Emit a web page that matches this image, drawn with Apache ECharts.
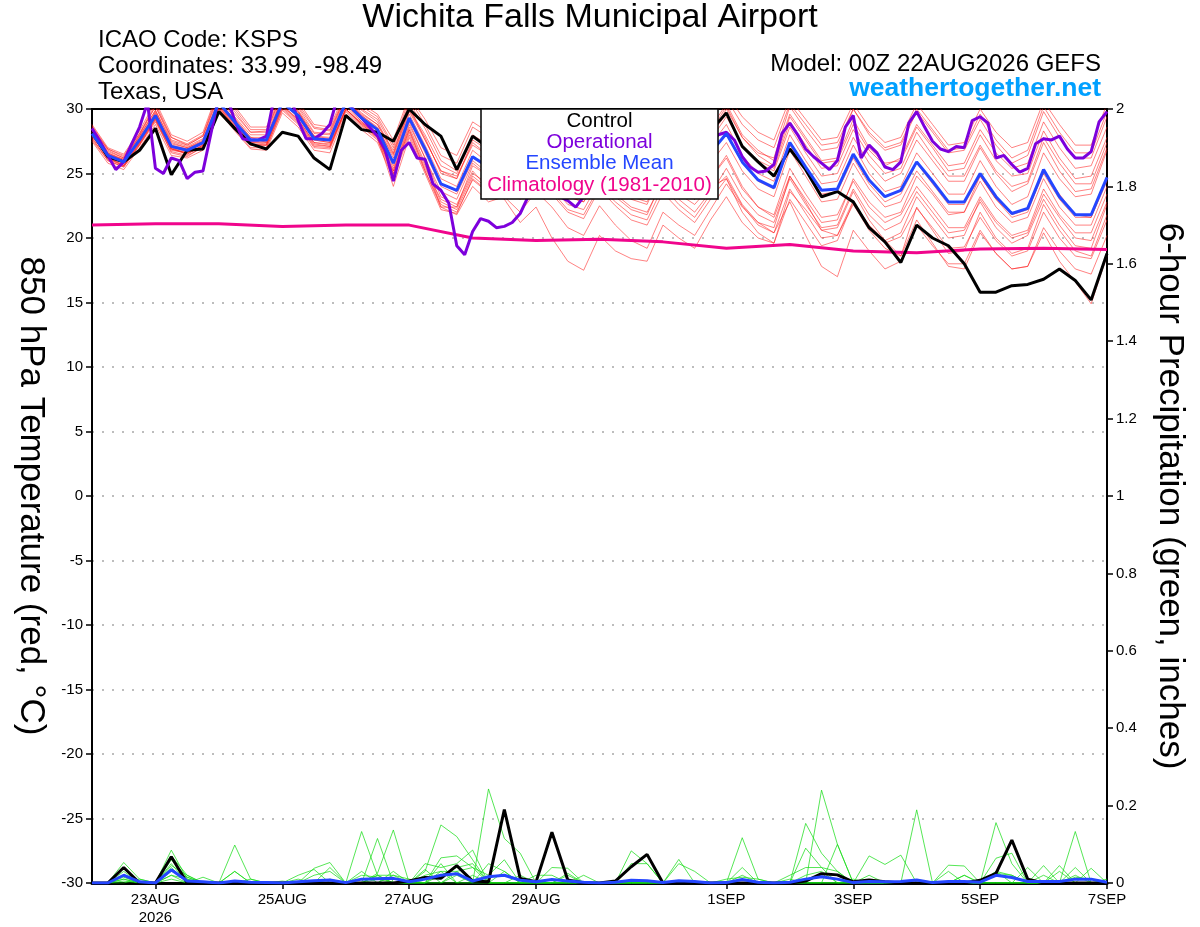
<!DOCTYPE html>
<html>
<head>
<meta charset="utf-8">
<script src="https://cdn.jsdelivr.net/npm/echarts@6/dist/echarts.min.js"></script>
<style>html,body{margin:0;padding:0;background:#fff}#chart{width:1200px;height:927px}</style>
</head>
<body>
<div id="chart"></div>
<script>
// ---------------- DATA ----------------
// forecast hours (6-hourly ensemble, 3-hourly operational, daily climatology)
const hours6 = Array.from({length: 65}, (_, i) => i * 6);
const hours3 = Array.from({length: 129}, (_, i) => i * 3);
const climHours = [0,24,48,72,96,120,144,168,192,216,240,264,288,312,336,360,384];

// x-axis labels
const tickHours  = [24, 72, 120, 168, 240, 288, 336, 384];
const tickLabels = ['23AUG\n2026', '25AUG', '27AUG', '29AUG', '1SEP', '3SEP', '5SEP', '7SEP'];

// 850 hPa temperature (°C)
const controlTemp = [
  28.2,26.3,25.9,26.8,28.5,24.9,26.8,26.9,
  29.8,28.5,27.3,26.9,28.2,27.9,26.2,25.3,
  29.5,28.4,28.2,27.5,30.0,28.8,27.9,25.3,
  27.9,27.0,26.5,25.5,27.0,26.0,25.0,24.5,
  27.5,26.5,25.0,24.5,27.0,26.0,25.5,28.3,
  29.7,27.1,25.9,24.8,26.9,25.3,23.2,23.6,
  22.8,20.8,19.7,18.1,21.0,20.0,19.4,18.0,
  15.8,15.8,16.3,16.4,16.8,17.6,16.7,15.2,18.8];

const meanTemp = [
  28.1,26.4,25.9,27.6,29.5,27.1,26.8,27.4,
  30.5,29.0,27.6,27.6,30.5,29.5,27.7,27.6,
  30.5,29.3,28.4,25.8,29.3,26.9,24.2,23.7,
  26.3,25.5,25.8,25.2,26.5,25.8,24.6,24.3,
  26.4,25.4,24.5,24.3,26.8,25.6,24.8,26.6,
  28.1,25.9,24.5,23.9,27.4,25.5,23.7,23.8,
  26.5,24.5,23.2,23.7,25.9,24.4,22.8,22.8,
  25.0,23.2,21.9,22.3,25.3,23.2,21.8,21.8,24.7];

const operationalTemp = [
  28.5,27.5,26.4,25.3,25.9,27.3,28.6,30.5,
  25.4,25.0,26.2,26.0,24.6,25.1,25.2,28.1,
  31.0,31.0,29.1,27.7,27.6,27.6,27.9,31.0,
  31.0,31.0,29.1,27.7,27.7,28.1,28.8,31.0,
  31.0,29.9,29.3,28.6,27.9,26.8,24.4,26.8,
  27.4,26.2,26.1,24.2,23.7,22.7,19.4,18.7,
  20.5,21.5,21.3,20.8,20.9,21.2,21.9,23.2,
  25.0,24.5,24.0,23.2,22.9,22.4,23.2,24.5,
  26.0,25.5,25.0,24.5,24.0,24.5,26.0,27.0,
  27.5,26.5,25.5,25.0,25.5,26.5,27.5,28.0,
  28.2,27.6,26.3,25.5,25.1,25.2,25.7,28.1,
  28.9,28.0,26.9,26.3,25.8,25.3,26.0,28.6,
  29.5,26.2,27.2,26.6,25.5,25.3,25.9,28.9,
  29.8,28.6,27.5,26.9,26.7,27.1,27.0,29.1,
  29.4,28.9,26.2,26.4,25.7,25.1,25.4,27.3,
  27.7,27.6,27.9,26.9,26.2,26.2,26.7,29.0,
  29.8];

const climTemp = [21.0,21.1,21.1,20.9,21.0,21.0,20.0,19.8,19.9,19.7,19.2,19.5,19.0,18.85,19.15,19.2,19.1];

// ensemble members (temperature)
const tempMem01 = [28.6,26.8,26.2,28.0,30.2,27.8,27.2,27.9, 31.2,29.8,28.2,28.3,31.2,30.2,28.5,28.3, 31.0,30.0,29.2,27.0,30.5,28.5,26.0,25.2, 28.0,27.2,27.5,26.8,28.6,27.8,26.8,26.2, 28.8,27.6,26.6,26.0,29.0,27.8,26.9,28.5, 30.4,28.0,26.8,26.0,29.6,27.8,26.0,26.2, 29.2,27.0,25.8,26.0,28.6,27.0,25.2,25.4, 28.0,26.0,24.8,25.0,28.3,26.2,24.6,24.8,27.8];
const tempMem02 = [27.5,25.8,25.3,27.0,28.8,26.4,26.2,26.8, 29.8,28.3,26.9,26.8,29.7,28.6,26.8,26.6, 29.6,28.4,27.4,24.6,28.0,25.2,22.6,22.0, 24.5,23.5,23.8,23.0,24.2,23.4,22.0,21.5, 23.8,22.5,21.4,21.0,23.5,22.2,21.2,23.0, 24.6,22.5,21.0,20.4,23.8,21.9,20.0,20.2, 22.9,20.9,19.6,20.1,22.3,20.8,19.2,19.3, 21.6,19.8,18.6,19.0,22.0,20.0,18.6,18.4,21.4];
const tempMem03 = [28.0,26.2,25.6,27.4,29.8,27.0,26.5,27.2, 30.9,29.3,27.8,27.4,31.0,29.8,27.9,27.5, 30.8,29.6,28.8,26.5,29.9,27.8,25.0,24.6, 27.6,26.8,27.2,26.4,28.2,27.4,26.4,26.0, 28.2,27.0,26.2,26.0,28.6,27.4,26.6,28.2, 30.2,27.8,26.4,25.6,29.4,27.6,25.8,26.0, 28.8,26.8,25.6,26.2,28.8,27.2,25.6,25.8, 28.4,26.6,25.4,25.8,29.0,27.0,25.4,25.6,28.6];
const tempMem04 = [27.8,26.0,25.5,27.2,29.2,26.8,26.6,27.0, 30.2,28.6,27.2,27.0,30.0,28.9,27.1,27.0, 30.0,28.8,27.8,25.2,28.6,25.8,22.4,21.8, 24.0,22.8,23.2,22.0,23.6,22.4,20.8,20.2, 22.5,21.0,19.8,19.2,22.0,21.0,20.2,22.2, 24.2,22.4,21.2,20.8,24.8,23.0,21.2,21.4, 24.6,22.8,21.6,22.0,24.8,23.4,21.8,22.0, 24.8,23.0,21.6,22.0,25.2,23.4,21.8,21.6,24.6];
const tempMem05 = [28.8,27.0,26.5,28.3,30.6,28.0,27.5,28.2, 31.6,30.2,28.6,28.6,31.6,30.6,28.8,28.6, 31.4,30.4,29.6,27.6,31.0,29.2,27.0,26.4, 29.0,28.2,28.6,28.0,29.8,29.0,28.0,27.6, 29.8,28.8,28.0,27.6,30.4,29.2,28.4,29.8, 31.2,29.4,28.2,27.6,30.8,29.2,27.6,27.8, 30.4,28.6,27.4,27.8,30.4,28.8,27.2,27.4, 30.0,28.2,27.0,27.4,30.6,28.8,27.2,27.2,30.4];
const tempMem06 = [28.2,26.5,26.0,27.6,29.4,27.1,26.9,27.5, 30.4,28.9,27.5,27.5,30.4,29.4,27.6,27.4, 30.2,29.0,28.0,25.4,29.0,26.2,23.2,22.6, 25.2,23.8,23.0,21.2,22.4,20.0,18.2,17.5, 20.2,19.0,18.4,18.2,21.0,20.0,19.2,21.4, 23.2,21.2,20.0,19.6,23.0,21.2,19.4,19.8, 22.8,21.0,19.8,20.4,23.2,21.6,20.0,20.2, 23.0,21.2,20.0,20.4,23.4,21.6,20.0,19.8,22.8];
const tempMem07 = [27.9,26.3,25.8,27.5,29.3,27.0,26.7,27.3, 30.3,28.8,27.4,27.3,30.2,29.2,27.4,27.2, 30.0,28.9,28.0,25.6,29.2,26.6,24.0,23.4, 26.0,25.0,25.2,24.4,25.6,24.6,23.2,22.8, 24.6,23.4,22.4,22.0,24.4,23.0,22.0,23.6, 24.8,22.6,21.2,20.4,22.8,20.2,17.8,17.0, 20.6,19.0,17.6,18.2,21.0,19.4,18.0,18.0, 20.6,18.8,17.6,17.8,20.4,18.2,16.6,14.9,18.6];
const tempMem08 = [28.3,26.6,26.1,27.8,29.7,27.3,27.0,27.6, 30.6,29.2,27.8,27.8,30.8,29.7,27.9,27.8, 30.7,29.5,28.6,26.2,29.6,27.2,24.6,24.0, 26.8,25.8,26.2,25.6,27.2,26.4,25.2,24.8, 27.0,26.0,25.0,24.8,27.4,26.2,25.4,27.2, 28.8,26.4,25.0,24.4,28.0,26.0,24.2,24.4, 27.2,25.0,23.6,24.0,26.6,25.0,23.4,23.4, 26.0,24.0,22.6,23.2,26.6,24.6,23.2,23.4,26.8];
const tempMem09 = [27.6,26.0,25.5,27.2,29.0,26.7,26.4,27.0, 30.0,28.4,27.0,27.0,29.9,28.8,27.0,26.9, 29.8,28.6,27.6,24.8,28.2,25.4,23.0,22.4, 25.0,24.2,24.6,23.8,25.4,24.6,23.2,22.8, 25.2,24.0,23.0,22.6,25.4,24.0,23.0,24.6, 26.2,23.8,22.4,21.8,25.4,23.4,21.6,21.8, 24.4,22.4,21.2,21.8,24.0,22.4,20.8,20.8, 23.2,21.4,20.2,20.6,23.8,21.8,20.4,20.4,23.4];
const tempMem10 = [28.4,26.7,26.2,27.9,29.9,27.5,27.1,27.7, 30.8,29.4,28.0,28.0,31.0,29.9,28.1,28.0, 30.9,29.7,28.8,26.8,30.0,28.0,25.6,25.0, 27.8,27.0,27.4,26.8,28.4,27.6,26.6,26.2, 28.4,27.4,26.4,26.2,28.6,27.4,26.6,28.0, 29.6,27.2,25.8,25.2,28.6,26.6,24.8,25.0, 27.8,25.8,24.4,25.0,27.6,26.0,24.4,24.4, 27.0,25.0,23.6,24.2,27.4,25.2,23.6,23.8,27.0];
const tempMem11 = [28.0,26.2,25.7,27.4,29.4,26.9,26.6,27.2, 30.3,28.8,27.4,27.4,30.3,29.2,27.4,27.3, 30.0,28.9,27.8,24.0,27.8,25.0,22.2,21.9, 24.6,23.6,24.0,23.2,24.6,23.6,22.2,21.8, 24.0,22.8,21.8,21.4,24.0,22.6,21.6,23.4, 25.4,23.2,21.8,21.2,24.6,22.6,20.8,21.0, 23.8,21.8,20.6,21.2,23.6,22.0,20.4,20.6, 22.8,20.8,19.6,20.2,23.0,21.0,19.4,19.2,22.6];
const tempMem12 = [28.5,26.9,26.4,28.1,30.2,27.6,27.2,27.9, 31.0,29.6,28.2,28.2,31.2,30.1,28.2,28.1, 31.1,29.9,29.0,26.6,30.2,27.6,25.2,24.8, 27.2,26.4,26.8,26.0,27.8,27.0,25.8,25.4, 27.6,26.6,25.8,25.6,28.2,27.0,26.2,27.8, 30.0,27.8,26.6,26.2,30.2,28.4,26.8,27.0, 30.0,28.2,27.0,27.4,30.0,28.4,26.8,27.0, 29.6,27.6,26.2,26.8,30.2,28.2,26.6,26.6,29.8];
const tempMem13 = [27.7,26.1,25.6,27.3,29.1,26.9,26.6,27.1, 30.1,28.6,27.2,27.2,30.1,29.0,27.2,27.1, 29.9,28.7,27.7,25.0,28.4,25.6,22.8,22.2, 24.8,23.8,24.2,23.4,24.8,24.0,22.6,22.2, 24.4,23.2,22.2,21.8,24.6,23.4,22.6,24.0, 24.6,22.0,20.4,19.6,23.6,22.2,20.6,20.8, 23.6,21.4,19.8,18.6,22.4,20.6,18.8,19.0, 22.0,20.0,18.8,19.2,22.6,20.6,19.0,18.6,21.8];
const tempMem14 = [28.2,26.4,25.9,27.7,29.6,27.2,26.9,27.4, 30.5,29.0,27.6,27.6,30.5,29.5,27.7,27.6, 30.4,29.2,28.3,25.8,29.2,26.8,24.2,23.6, 26.2,25.4,25.8,25.0,26.6,25.8,24.6,24.2, 26.4,25.4,24.4,24.2,26.8,25.6,24.8,26.6, 28.0,25.8,24.4,23.8,27.2,25.2,23.4,23.6, 26.2,24.2,22.8,23.4,25.8,24.2,22.6,22.6, 24.8,23.0,21.8,22.2,25.0,23.0,21.6,21.6,24.4];
const tempMem15 = [28.4,26.6,26.0,27.4,29.2,26.6,26.3,27.1, 30.0,28.6,27.2,27.2,30.6,29.6,27.6,27.4, 30.4,29.0,27.9,25.0,28.4,25.2,22.4,22.4, 25.6,24.8,25.4,24.6,26.2,25.4,24.0,23.6, 25.8,24.6,23.6,23.4,26.2,25.0,24.0,25.8, 27.4,25.2,23.8,23.2,26.8,24.8,22.8,23.0, 25.8,23.8,22.4,22.8,25.2,23.6,22.0,22.0, 24.4,22.4,21.2,21.6,24.6,22.4,21.0,21.0,24.0];
const tempMem16 = [28.0,26.5,26.1,27.9,29.9,27.4,27.0,27.5, 30.6,29.0,27.6,27.7,30.9,29.8,27.9,27.7, 30.8,29.5,28.5,26.4,29.8,27.6,25.2,24.6, 27.4,26.4,26.6,25.8,27.6,26.8,25.6,25.2, 27.4,26.4,25.4,25.2,27.8,26.6,25.8,27.6, 29.4,27.2,26.0,25.4,29.0,27.2,25.4,25.6, 28.4,26.4,25.0,25.4,28.2,26.4,24.8,24.8, 27.2,25.2,24.0,24.4,27.8,25.8,24.2,24.2,27.4];
const tempMem17 = [27.9,26.2,25.6,27.3,29.3,26.9,26.5,27.2, 30.2,28.7,27.3,27.2,30.2,29.1,27.3,27.1, 30.0,28.8,27.8,25.2,28.8,26.2,23.6,23.0, 25.8,24.8,25.2,24.4,25.8,25.0,23.6,23.2, 25.4,24.2,23.2,22.8,25.2,24.0,23.0,24.6, 26.4,24.0,22.4,21.6,24.8,22.8,20.6,20.2, 22.6,20.6,19.2,18.6,21.4,19.6,17.8,17.6, 20.4,18.8,17.6,17.8,20.8,19.0,17.6,17.2,20.2];
const tempMem18 = [28.7,26.9,26.3,28.1,30.4,27.8,27.3,28.0, 31.4,30.0,28.4,28.4,31.4,30.4,28.6,28.4, 31.2,30.2,29.4,27.2,30.8,28.8,26.4,25.8, 28.6,27.8,28.0,27.4,29.2,28.4,27.4,27.0, 29.4,28.4,27.4,27.0,29.8,28.6,27.8,29.2, 30.8,28.8,27.6,27.0,30.4,28.8,27.2,27.4, 30.0,28.0,26.8,27.2,29.8,28.2,26.6,26.8, 29.2,27.2,25.8,26.4,29.8,27.8,26.2,26.2,29.4];
const tempMembers = [tempMem01,tempMem02,tempMem03,tempMem04,tempMem05,tempMem06,tempMem07,tempMem08,tempMem09,
                     tempMem10,tempMem11,tempMem12,tempMem13,tempMem14,tempMem15,tempMem16,tempMem17,tempMem18];

// 6-hour precipitation (inches)
const controlPrecip = [
  0,0,.04,0,0,.068,0,0,
  0,0,0,0,0,0,0,0,
  0,0,0,0,.005,.014,.012,.045,
  .005,.003,.19,.012,.003,.131,.008,0,
  0,.005,.042,.074,0,0,0,0,
  0,0,0,0,0,.005,.024,.021,
  .003,.008,.003,0,0,0,0,0,
  .007,.025,.111,.01,0,0,0,0,0];
const meanPrecip = [
  0,0,.02,.003,0,.034,.005,.003,
  0,.005,.002,.001,0,.003,.006,.008,
  .001,.01,.011,.012,.003,.01,.02,.024,
  .005,.016,.02,.007,.003,.009,.005,.002,
  0,.002,.007,.006,.001,.006,.004,0,
  .001,.009,.002,0,.002,.01,.016,.01,
  .001,.004,.003,.004,.008,.001,.004,.004,
  .002,.02,.014,.004,.004,.004,.01,.01,.002];

const precipMem01 = [0,0,.053,.01,0,.085,.01,0, 0,.098,.01,0,0,0,0,0, 0,0,0,0,0,.03,.15,.12, .06,0,0,0,0,0,0,0, 0,0,0,0,0,0,0,0, 0,.117,.01,0,0,0,.24,.1, 0,0,0,0,0,0,0,0, 0,.03,0,0,0,0,0,0,0];
const precipMem02 = [0,0,.04,0,0,.07,.02,0, 0,.03,0,0,0,0,0,.01, 0,.133,.02,0,0,0,.065,.07, .04,.02,.06,0,0,0,0,0, 0,0,0,0,0,0,0,0, 0,0,0,0,0,.154,.077,.03, 0,0,0,0,0,0,0,0, 0,.064,.077,0,0,0,.04,0,0];
const precipMem03 = [0,0,.03,0,0,.06,.015,0, 0,0,0,0,0,0,0,0, 0,0,.025,.137,0,0,0,.03, 0,.243,.115,.077,0,0,0,0, 0,0,0,0,0,0,0,0, 0,0,0,0,0,0,0,0, 0,0,0,0,.189,0,0,0, 0,0,0,0,0,.045,0,0,0];
const precipMem04 = [0,0,.02,0,0,.05,0,0, 0,0,0,0,0,0,.038,.053, 0,0,.115,0,0,0,.05,0, 0,0,0,0,0,0,0,0, 0,0,.083,.05,0,0,0,0, 0,0,0,0,0,0,0,.1, 0,0,0,0,0,0,0,0, 0,.156,.05,0,0,0,0,0,0];
const precipMem05 = [0,0,.015,0,0,.04,0,0, 0,.03,0,0,0,0,0,.04, 0,0,.02,0,0,.05,.04,.05, .085,0,0,0,0,0,0,0, 0,0,0,0,0,.061,0,0, 0,0,0,0,0,0,0,0, 0,.07,.048,.072,0,0,0,0, 0,0,0,0,0,0,.133,0,0];
const precipMem06 = [0,0,.01,0,0,.03,.015,0, 0,0,0,0,0,.02,.035,0, 0,.03,0,.03,0,0,.03,.03, .04,0,0,0,0,.04,.038,0, 0,0,0,0,0,0,0,0, 0,0,0,0,0,.09,.04,0, 0,0,0,0,0,0,.046,.044, 0,0,0,0,.045,0,0,0,0];
const precipMem07 = [0,0,.01,0,0,.02,0,.015, 0,0,0,0,0,0,.02,.03, 0,0,.02,.02,0,.035,0,.02, 0,.05,.03,0,0,0,0,0, 0,0,.05,.05,0,0,0,0, 0,.04,0,0,0,0,0,0, 0,0,0,0,0,0,.03,0, 0,.03,.02,0,0,0,0,0,0];
const precipMem08 = [0,0,0,.01,0,.02,.01,0, 0,0,.01,0,0,.01,0,0, 0,.02,.015,0,0,.02,.03,0, .02,0,0,.02,0,0,.025,0, 0,0,0,0,0,.05,.03,0, 0,0,0,0,.02,.04,.04,.03, 0,0,0,0,0,0,0,.02, 0,0,0,.04,0,.03,0,.038,0];
const precipMem09 = [0,0,.005,0,0,.01,0,0, 0,0,0,0,0,0,0,0, 0,0,0,.02,.01,0,0,0, 0,0,0,0,.02,.02,0,.02, 0,0,0,0,0,0,0,0, .01,.015,.01,0,.01,0,0,0, .01,0,0,0,0,0,0,.02, 0,0,0,0,.02,0,.02,0,.01];
const precipMem10 = [0,0,.02,0,0,.045,.02,0, 0,0,0,0,.005,0,.005,0, 0,0,.01,0,0,0,.02,.04, .05,0,.03,0,0,0,.02,0, 0,0,0,0,0,0,0,0, 0,.02,0,0,0,.02,.03,0, 0,.02,0,0,0,0,0,0, 0,.025,.02,0,0,0,.015,.01,0];
const precipMembers = [precipMem01,precipMem02,precipMem03,precipMem04,precipMem05,
                       precipMem06,precipMem07,precipMem08,precipMem09,precipMem10];

// ---------------- sanity check ----------------
[controlTemp, meanTemp, controlPrecip, meanPrecip, ...tempMembers, ...precipMembers].forEach((a, i) => {
  if (a.length !== hours6.length) throw new Error('array ' + i + ' has length ' + a.length);
});
if (operationalTemp.length !== hours3.length) throw new Error('operational length ' + operationalTemp.length);
if (climTemp.length !== climHours.length) throw new Error('clim length');

// ---------------- CHART ----------------
const FONT = "'Liberation Sans', Arial, Helvetica, sans-serif";
const pair = (xs, ys) => xs.map((x, i) => [x, ys[i]]);
const baseLine = {type: 'line', showSymbol: false, symbol: 'none', clip: true, silent: true, animation: false};

const series = [];
tempMembers.forEach((m, i) => series.push(Object.assign({}, baseLine, {
  name: 'member' + (i + 1), yAxisIndex: 0, data: pair(hours6, m),
  lineStyle: {color: 'rgba(255,30,30,0.8)', width: 0.7}
})));
precipMembers.forEach((m, i) => series.push(Object.assign({}, baseLine, {
  name: 'precipMember' + (i + 1), yAxisIndex: 1, data: pair(hours6, m),
  lineStyle: {color: 'rgba(20,220,20,0.9)', width: 0.8}
})));
series.push(Object.assign({}, baseLine, {name: 'Climatology (1981-2010)', yAxisIndex: 0,
  data: pair(climHours, climTemp), lineStyle: {color: '#f0058c', width: 3}}));
series.push(Object.assign({}, baseLine, {name: 'Control', yAxisIndex: 0,
  data: pair(hours6, controlTemp), lineStyle: {color: '#000000', width: 3}}));
series.push(Object.assign({}, baseLine, {name: 'Operational', yAxisIndex: 0,
  data: pair(hours3, operationalTemp), lineStyle: {color: '#7d00dc', width: 3}}));
series.push(Object.assign({}, baseLine, {name: 'Ensemble Mean', yAxisIndex: 0,
  data: pair(hours6, meanTemp), lineStyle: {color: '#2446ff', width: 3}}));
series.push(Object.assign({}, baseLine, {name: 'Control precip', yAxisIndex: 1,
  data: pair(hours6, controlPrecip), lineStyle: {color: '#000000', width: 3}}));
series.push(Object.assign({}, baseLine, {name: 'Mean precip', yAxisIndex: 1,
  data: pair(hours6, meanPrecip), lineStyle: {color: '#2446ff', width: 3}}));

const chart = echarts.init(document.getElementById('chart'), null, {renderer: 'canvas'});

const legendItems = [
  {text: 'Control', color: '#000000'},
  {text: 'Operational', color: '#7d00dc'},
  {text: 'Ensemble Mean', color: '#2446ff'},
  {text: 'Climatology (1981-2010)', color: '#f0058c'}
];

chart.setOption({
  animation: false,
  backgroundColor: '#ffffff',
  textStyle: {fontFamily: FONT},
  grid: {left: 92, right: 93, top: 109, bottom: 44, show: true, borderColor: '#000', borderWidth: 2, backgroundColor: 'transparent'},
  xAxis: [{
    type: 'value', min: 0, max: 384, position: 'bottom',
    axisLine: {show: true, onZero: false, lineStyle: {color: '#000', width: 3}},
    axisTick: {show: true, customValues: tickHours, length: 6, lineStyle: {color: '#000', width: 1.5}},
    axisLabel: {
      customValues: tickHours, color: '#000', fontSize: 15, fontFamily: FONT, margin: 8, lineHeight: 18,
      formatter: v => { const i = tickHours.indexOf(v); return i >= 0 ? tickLabels[i] : ''; }
    },
    splitLine: {show: false}
  }, {
    type: 'value', min: 0, max: 384, position: 'top',
    axisLine: {show: true, onZero: false, lineStyle: {color: '#000', width: 2}},
    axisTick: {show: false}, axisLabel: {show: false}, splitLine: {show: false}
  }],
  yAxis: [{
    type: 'value', position: 'left', min: -30, max: 30, interval: 5,
    name: '850 hPa Temperature (red, °C)', nameLocation: 'middle', nameGap: 44, nameRotate: -90,
    nameTextStyle: {fontSize: 35, color: '#000', fontFamily: FONT},
    axisLine: {show: true, onZero: false, lineStyle: {color: '#000', width: 2}},
    axisTick: {show: true, length: 6, lineStyle: {color: '#000', width: 1.5}},
    axisLabel: {color: '#000', fontSize: 15, fontFamily: FONT, margin: 9},
    splitLine: {show: true, lineStyle: {color: '#a8a8a8', width: 1.5, type: [2, 8]}}
  }, {
    type: 'value', position: 'right', min: 0, max: 2, interval: 0.2,
    name: '6-hour Precipitation (green, inches)', nameLocation: 'middle', nameGap: 45, nameRotate: -90,
    nameTextStyle: {fontSize: 35, color: '#000', fontFamily: FONT},
    axisLine: {show: true, onZero: false, lineStyle: {color: '#000', width: 2}},
    axisTick: {show: true, length: 6, lineStyle: {color: '#000', width: 1.5}},
    axisLabel: {color: '#000', fontSize: 15, fontFamily: FONT, margin: 9},
    splitLine: {show: false}
  }],
  graphic: [
    {type: 'text', z: 100, x: 590, y: 18, style: {text: 'Wichita Falls Municipal Airport', font: '34px ' + FONT, fill: '#000', align: 'center', verticalAlign: 'middle'}},
    {type: 'text', z: 100, x: 98, y: 40, style: {text: 'ICAO Code: KSPS', font: '24px ' + FONT, fill: '#000', verticalAlign: 'middle'}},
    {type: 'text', z: 100, x: 98, y: 66, style: {text: 'Coordinates: 33.99, -98.49', font: '24px ' + FONT, fill: '#000', verticalAlign: 'middle'}},
    {type: 'text', z: 100, x: 98, y: 92, style: {text: 'Texas, USA', font: '24px ' + FONT, fill: '#000', verticalAlign: 'middle'}},
    {type: 'text', z: 100, x: 1101, y: 64, style: {text: 'Model: 00Z 22AUG2026 GEFS', font: '24px ' + FONT, fill: '#000', align: 'right', verticalAlign: 'middle'}},
    {type: 'text', z: 100, x: 1101, y: 89, style: {text: 'weathertogether.net', font: 'bold 26.5px ' + FONT, fill: '#00a0ff', align: 'right', verticalAlign: 'middle'}},
    {type: 'group', z: 100, children: [
      {type: 'rect', z: 100, shape: {x: 481, y: 109, width: 237, height: 90}, style: {fill: '#fff', stroke: '#000', lineWidth: 1.5}},
      ...legendItems.map((it, i) => ({type: 'text', z: 101, x: 599.5, y: 121 + i * 21.3,
        style: {text: it.text, font: '20.5px ' + FONT, fill: it.color, align: 'center', verticalAlign: 'middle'}}))
    ]}
  ],
  series: series
});
</script>
</body>
</html>
